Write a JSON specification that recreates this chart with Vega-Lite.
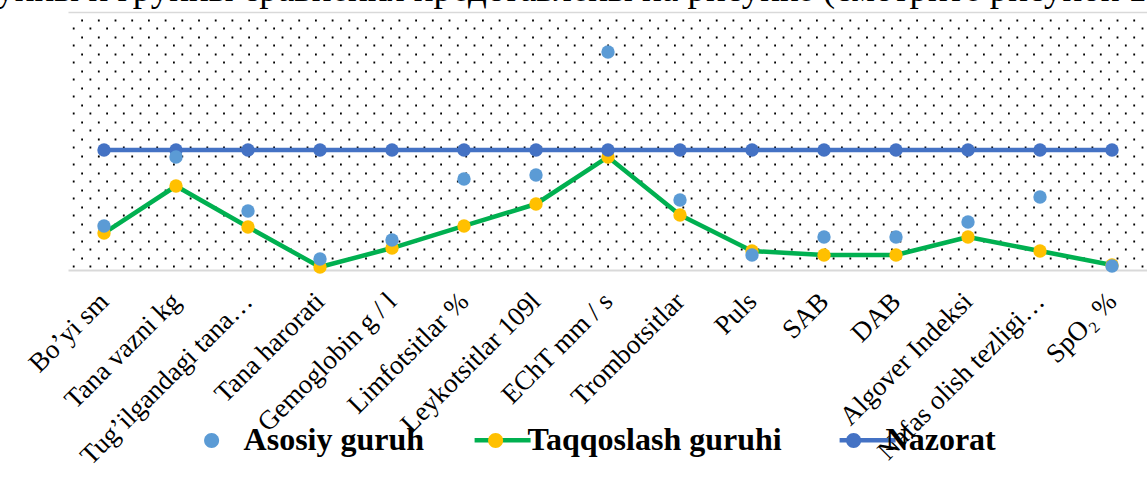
{
  "$schema": "https://vega.github.io/schema/vega-lite/v6.json",
  "width": 1080,
  "height": 252,
  "autosize": "none",
  "padding": {"left": 68, "top": 18, "right": 0, "bottom": 207},
  "background": "white",
  "title": {
    "text": "группы и группы сравнения представлены на рисунке (смотрите рисунок 1)",
    "anchor": "start",
    "frame": "group",
    "orient": "top",
    "baseline": "alphabetic",
    "offset": 0,
    "dy": 26,
    "dx": -105,
    "font": "Liberation Serif",
    "fontSize": 37,
    "fontWeight": "normal",
    "color": "black"
  },
  "config": {"view": {"stroke": null}, "font": "Liberation Serif"},
  "data": {
    "values": [
      {"k": "Bo’yi sm", "s": "Taqqoslash guruhi", "v": 30.8},
      {"k": "Tana vazni kg", "s": "Taqqoslash guruhi", "v": 70},
      {"k": "Tug’ilgandagi tana…", "s": "Taqqoslash guruhi", "v": 35.8},
      {"k": "Tana harorati", "s": "Taqqoslash guruhi", "v": 2.5},
      {"k": "Gemoglobin g / l", "s": "Taqqoslash guruhi", "v": 18.3},
      {"k": "Limfotsitlar %", "s": "Taqqoslash guruhi", "v": 36.7},
      {"k": "Leykotsitlar 109l", "s": "Taqqoslash guruhi", "v": 55},
      {"k": "EChT mm / s", "s": "Taqqoslash guruhi", "v": 94.2},
      {"k": "Trombotsitlar", "s": "Taqqoslash guruhi", "v": 45.8},
      {"k": "Puls", "s": "Taqqoslash guruhi", "v": 15.8},
      {"k": "SAB", "s": "Taqqoslash guruhi", "v": 12.5},
      {"k": "DAB", "s": "Taqqoslash guruhi", "v": 12.5},
      {"k": "Algover Indeksi", "s": "Taqqoslash guruhi", "v": 27.5},
      {"k": "Nafas olish tezligi…", "s": "Taqqoslash guruhi", "v": 15.8},
      {"k": "SpO₂ %", "s": "Taqqoslash guruhi", "v": 4.2},
      {"k": "Bo’yi sm", "s": "Nazorat", "v": 100},
      {"k": "Tana vazni kg", "s": "Nazorat", "v": 100},
      {"k": "Tug’ilgandagi tana…", "s": "Nazorat", "v": 100},
      {"k": "Tana harorati", "s": "Nazorat", "v": 100},
      {"k": "Gemoglobin g / l", "s": "Nazorat", "v": 100},
      {"k": "Limfotsitlar %", "s": "Nazorat", "v": 100},
      {"k": "Leykotsitlar 109l", "s": "Nazorat", "v": 100},
      {"k": "EChT mm / s", "s": "Nazorat", "v": 100},
      {"k": "Trombotsitlar", "s": "Nazorat", "v": 100},
      {"k": "Puls", "s": "Nazorat", "v": 100},
      {"k": "SAB", "s": "Nazorat", "v": 100},
      {"k": "DAB", "s": "Nazorat", "v": 100},
      {"k": "Algover Indeksi", "s": "Nazorat", "v": 100},
      {"k": "Nafas olish tezligi…", "s": "Nazorat", "v": 100},
      {"k": "SpO₂ %", "s": "Nazorat", "v": 100},
      {"k": "Bo’yi sm", "s": "Asosiy guruh", "v": 36.7},
      {"k": "Tana vazni kg", "s": "Asosiy guruh", "v": 94.2},
      {"k": "Tug’ilgandagi tana…", "s": "Asosiy guruh", "v": 49.2},
      {"k": "Tana harorati", "s": "Asosiy guruh", "v": 9.2},
      {"k": "Gemoglobin g / l", "s": "Asosiy guruh", "v": 25},
      {"k": "Limfotsitlar %", "s": "Asosiy guruh", "v": 75.8},
      {"k": "Leykotsitlar 109l", "s": "Asosiy guruh", "v": 79.2},
      {"k": "EChT mm / s", "s": "Asosiy guruh", "v": 181.7},
      {"k": "Trombotsitlar", "s": "Asosiy guruh", "v": 58.3},
      {"k": "Puls", "s": "Asosiy guruh", "v": 12.5},
      {"k": "SAB", "s": "Asosiy guruh", "v": 27.5},
      {"k": "DAB", "s": "Asosiy guruh", "v": 27.5},
      {"k": "Algover Indeksi", "s": "Asosiy guruh", "v": 40},
      {"k": "Nafas olish tezligi…", "s": "Asosiy guruh", "v": 60.8},
      {"k": "SpO₂ %", "s": "Asosiy guruh", "v": 3.3}
    ]
  },
  "resolve": {
    "scale": {"fill": "independent", "stroke": "independent"},
    "legend": {"fill": "independent", "stroke": "independent"},
    "axis": {"x": "independent", "y": "independent"}
  },
  "layer": [
    {
      "transform": [{"filter": "datum.s !== 'Asosiy guruh'"}],
      "mark": {"type": "line", "strokeWidth": 4.5, "strokeCap": "round", "strokeJoin": "round"},
      "encoding": {
        "x": {
          "field": "k",
          "type": "nominal",
          "sort": ["Bo’yi sm", "Tana vazni kg", "Tug’ilgandagi tana…", "Tana harorati", "Gemoglobin g / l", "Limfotsitlar %", "Leykotsitlar 109l", "EChT mm / s", "Trombotsitlar", "Puls", "SAB", "DAB", "Algover Indeksi", "Nafas olish tezligi…", "SpO₂ %"],
          "axis": {
            "orient": "bottom",
            "title": null,
            "labelAngle": -45,
            "labelAlign": "right",
            "labelBaseline": "middle",
            "labelFont": "Liberation Serif",
            "labelFontSize": 27,
            "labelColor": "black",
            "labelPadding": 27,
            "ticks": false,
            "tickSize": 0,
            "domainColor": "#D9D9D9",
            "domainWidth": 2,
            "labelLimit": 400,
            "labelOverlap": false,
            "labelBound": false,
            "grid": false
          }
        },
        "y": {
          "field": "v",
          "type": "quantitative",
          "scale": {"domain": [0, 210], "nice": false, "zero": true},
          "axis": {
            "orient": "left",
            "title": null,
            "labels": false,
            "ticks": false,
            "domain": false,
            "grid": true,
            "values": [3.33, 10.4, 17.47, 24.54, 31.61, 38.68, 45.74, 52.81, 59.88, 66.95, 74.02, 81.09, 88.16, 95.23, 102.3, 109.37, 116.44, 123.51, 130.58, 137.64, 144.71, 151.78, 158.85, 165.92, 172.99, 180.06, 187.13, 194.2, 201.27, 208.33],
            "gridColor": "black",
            "gridWidth": 1.8,
            "gridDash": [1.8, 14.9],
            "gridDashOffset": {"condition": {"test": "round((datum.value - 3.33) / 7.069) % 2 === 0", "value": 12.4}, "value": 4}
          }
        },
        "stroke": {
          "field": "s",
          "type": "nominal",
          "scale": {"domain": ["Asosiy guruh", "Taqqoslash guruhi", "Nazorat"], "range": ["rgba(0,0,0,0)", "#00B050", "#4472C4"]},
          "legend": {
            "orient": "none",
            "legendX": 113.1,
            "legendY": 391.5,
            "direction": "horizontal",
            "title": null,
            "symbolType": "stroke",
            "symbolSize": 3136,
            "symbolStrokeWidth": 4.5,
            "labelFont": "Liberation Serif",
            "labelFontSize": 32,
            "labelFontWeight": "bold",
            "labelOpacity": 0,
            "labelOffset": 1.5,
            "labelLimit": 600,
            "columnPadding": 41,
            "padding": 0
          }
        },
        "order": {"value": null}
      }
    },
    {
      "mark": {"type": "point", "filled": true, "size": 180, "opacity": 1, "strokeWidth": 0},
      "encoding": {
        "x": {
          "field": "k",
          "type": "nominal",
          "sort": ["Bo’yi sm", "Tana vazni kg", "Tug’ilgandagi tana…", "Tana harorati", "Gemoglobin g / l", "Limfotsitlar %", "Leykotsitlar 109l", "EChT mm / s", "Trombotsitlar", "Puls", "SAB", "DAB", "Algover Indeksi", "Nafas olish tezligi…", "SpO₂ %"],
          "axis": {
            "orient": "top",
            "title": null,
            "labels": false,
            "ticks": false,
            "domain": true,
            "domainColor": "#D9D9D9",
            "domainWidth": 1.5,
            "offset": 6,
            "grid": false
          }
        },
        "y": {"field": "v", "type": "quantitative", "axis": null},
        "fill": {
          "field": "s",
          "type": "nominal",
          "scale": {"domain": ["Asosiy guruh", "Taqqoslash guruhi", "Nazorat"], "range": ["#5B9BD5", "#FFC000", "#4472C4"]},
          "legend": {
            "orient": "none",
            "legendX": 113.1,
            "legendY": 391.5,
            "direction": "horizontal",
            "title": null,
            "symbolType": "M0.268,0A0.268,0.268 0 1,1 -0.268,0A0.268,0.268 0 1,1 0.268,0Z",
            "symbolSize": 3136,
            "symbolStrokeWidth": 4.5,
            "symbolStrokeColor": "rgba(0,0,0,0)",
            "symbolOpacity": 1,
            "labelFont": "Liberation Serif",
            "labelFontSize": 32,
            "labelFontWeight": "bold",
            "labelColor": "black",
            "labelOffset": 1.5,
            "labelLimit": 600,
            "columnPadding": 41,
            "padding": 0
          }
        }
      }
    }
  ]
}
